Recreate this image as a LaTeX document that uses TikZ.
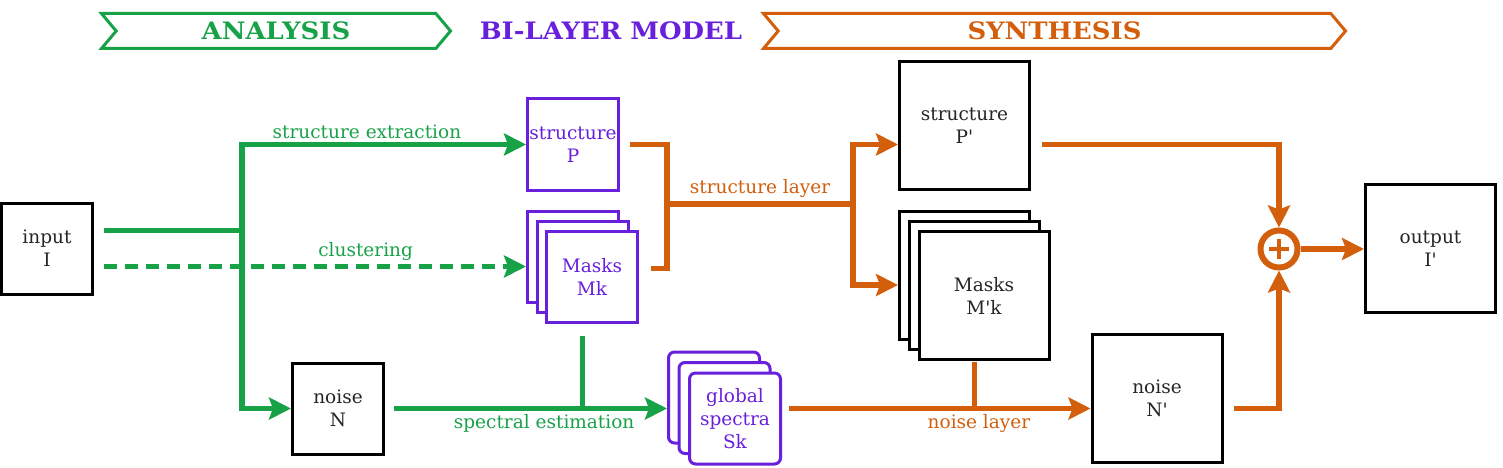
\documentclass[tikz,border=0pt]{standalone}
\usepackage{fontspec}
\setmainfont{DejaVu Serif}
\newfontfamily\titlefont{DejaVu Serif}[FakeStretch=1.08]
\usetikzlibrary{arrows.meta, positioning, shapes.symbols}

\definecolor{grn}{RGB}{24,162,72}
\definecolor{orng}{RGB}{211,94,12}
\definecolor{purp}{RGB}{104,32,220}

\newcommand{\aps}{\textquotesingle}

\begin{document}
\begin{tikzpicture}[
    x=1pt, y=-1pt,
    box/.style    = {rectangle, draw, line width=3pt, fill=white,
                     align=center, inner sep=0pt, text=black!85,
                     font=\fontsize{18.5}{23}\selectfont},
    sbox/.style   = {box, minimum width=91pt, minimum height=91pt},
    lbox/.style   = {box, minimum width=130pt, minimum height=128pt},
    pbox/.style   = {sbox, draw=purp, text=purp},
    banner/.style = {signal, signal to=east, signal from=west,
                     signal pointer angle=100, draw, line width=3pt,
                     fill=white, minimum height=35pt, inner xsep=0pt,
                     font=\titlefont\bfseries\fontsize{24}{26}\selectfont},
    title/.style  = {font=\titlefont\bfseries\fontsize{24}{26}\selectfont},
    glbl/.style   = {font=\fontsize{18.5}{20}\selectfont, text=grn},
    olbl/.style   = {font=\fontsize{18.5}{20}\selectfont, text=orng},
    gline/.style  = {draw=grn, line width=5.5pt},
    oline/.style  = {draw=orng, line width=5.5pt},
    garrow/.style = {gline, -{Stealth[length=22pt, width=22pt, inset=4pt]}},
    oarrow/.style = {oline, -{Stealth[length=22pt, width=22pt, inset=4pt]}},
    gdash/.style  = {garrow, dash pattern=on 13pt off 8pt}
]
\useasboundingbox (0,0) rectangle (1503,468);

% ========= headers =========
\node[banner, draw=grn, text=grn, minimum width=349pt]  (ana) at (276,31)    {ANALYSIS};
\node[title, text=purp]                                 (bil) at (611,31)    {BI-LAYER MODEL};
\node[banner, draw=orng, text=orng, minimum width=582pt] (syn) at (1054.5,31) {SYNTHESIS};

% ========= analysis =========
\node[sbox] (input)  at (47,248.5)  {input\\I};
\node[sbox] (noiseN) at (338,408.5) {noise\\N};

% ========= bi-layer model =========
\node[pbox] (strP)   at (573,144.5)   {structure\\P};
\node[pbox] (masksC) at (573,256.5)   {};
\node[pbox] (masksB) at (582.5,266.5) {};
\node[pbox] (masks)  at (592,276.5)   {Masks\\Mk};
\node[pbox, rounded corners=6pt] (specC) at (714,397.5)   {};
\node[pbox, rounded corners=6pt] (specB) at (724.5,408)   {};
\node[pbox, rounded corners=6pt] (spec)  at (735,418.5)   {global\\spectra\\Sk};

% ========= synthesis =========
\node[lbox] (strPp)    at (964.5,125.5) {structure\\P\aps};
\node[lbox] (masksPpC) at (964.5,275)   {};
\node[lbox] (masksPpB) at (974.5,285)   {};
\node[lbox] (masksPp)  at (984,295.5)   {Masks\\M\aps k};
\node[lbox] (noisePp)  at (1157,398)    {noise\\N\aps};
\node[lbox] (output)   at (1430.5,248.5) {output\\I\aps};
\node[circle, draw=orng, line width=6pt, minimum size=37pt, inner sep=0pt] (plus) at (1279,249) {};
\draw[orng, line width=4pt] ([yshift=10pt]plus.center) -- ([yshift=-10pt]plus.center)
                            ([xshift=-10pt]plus.center) -- ([xshift=10pt]plus.center);

% ========= analysis connectors =========
\coordinate (split) at (242,230.5);
\coordinate (inlo)  at ([xshift=10pt,yshift=-18pt]input.east);
\draw[gline]  ([xshift=10pt,yshift=18pt]input.east) -- (split);
\draw[garrow] (split) |- node[glbl, pos=0.72, above] {structure extraction} (strP.west);
\draw[garrow] (split) |- (noiseN.west);
\draw[gdash]  (inlo) -- node[glbl, pos=0.62, above] {clustering} (inlo -| masksC.west);
\draw[gline]  ([yshift=-22pt]masksB.south) -- (masksB.south |- noiseN.east);
\draw[garrow] ([xshift=9pt]noiseN.east) -- node[glbl, pos=0.55, below] {spectral estimation} (noiseN.east -| specC.west);

% ========= synthesis connectors =========
\coordinate (bjoin) at (667,204);
\coordinate (ofork) at (853,204);
\draw[oline]  ([xshift=10pt]strP.east) -| (bjoin) |- ([xshift=12pt,yshift=8pt]masks.east);
\draw[oline]  (bjoin) -- node[olbl, above] {structure layer} (ofork);
\draw[oarrow] (ofork) |- (strPp.west |- strP);
\draw[oarrow] (ofork) |- (masksPpC.west |- masksPpB);
\draw[oarrow] ([xshift=7pt]spec.east |- noiseN) -- node[olbl, pos=0.63, below] {noise layer} (noisePp.west |- noiseN);
\draw[oline]  ([yshift=-11pt]masksPpB.south) -- (masksPpB.south |- noiseN);
\draw[oarrow] ([xshift=11pt]strPp.east |- strP) -| (plus.north);
\draw[oarrow] ([xshift=10pt]noisePp.east |- noiseN) -| (plus.south);
\draw[oarrow] (plus.east) -- (plus.east -| output.west);

\end{tikzpicture}
\end{document}
